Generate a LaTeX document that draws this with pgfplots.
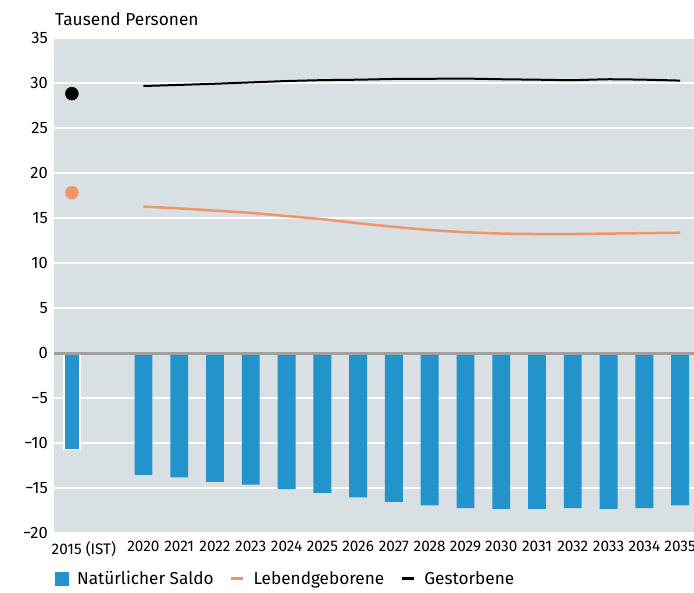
\documentclass[border=0pt]{standalone}
\usepackage{fontspec}
\setmainfont{Fira Sans}
\usepackage{pgfplots}
\usepackage{pgfplotstable}
\pgfplotsset{compat=1.18}

\definecolor{bg}{HTML}{D9E0E3}
\definecolor{barblue}{HTML}{2394CB}
\definecolor{orng}{HTML}{F0956A}
\definecolor{zeroline}{HTML}{A0A0A0}

% 2015 (IST) at x=0, projection years 2020..2035 at x=2..17
\pgfplotstableread{
x saldo geb gest
0 -10.7 17.85 28.85
}\tIst

\pgfplotstableread{
x  saldo  geb    gest
2  -13.5  16.30  29.70
3  -13.8  16.10  29.82
4  -14.3  15.85  29.95
5  -14.6  15.60  30.10
6  -15.1  15.25  30.25
7  -15.5  14.90  30.35
8  -16.0  14.45  30.40
9  -16.5  14.05  30.48
10 -16.9  13.70  30.50
11 -17.2  13.45  30.52
12 -17.3  13.30  30.45
13 -17.3  13.25  30.40
14 -17.2  13.25  30.35
15 -17.3  13.30  30.45
16 -17.2  13.35  30.40
17 -16.9  13.40  30.30
}\tProg

\begin{document}
\begin{tikzpicture}
\begin{axis}[
    at={(0pt,0pt)}, anchor=south west,
    scale only axis,
    width=644pt, height=495pt,
    xmin=-0.5, xmax=17.5,
    ymin=-20, ymax=35,
    axis line style={draw=none},
    axis background/.style={fill=bg},
    ymajorgrids,
    grid style={white, line width=2pt},
    tick style={draw=none},
    ytick={-20,-15,...,35},
    yticklabels={−20,−15,−10,−5,0,5,10,15,20,25,30,35},
    yticklabel style={font=\fontsize{16.5}{18}\selectfont, anchor=east, inner sep=0pt, xshift=-6pt},
    xtick={0,2,3,...,17},
    xticklabels={\hspace*{24pt}2015 (IST),2020,2021,2022,2023,2024,2025,2026,2027,2028,2029,2030,2031,2032,2033,2034,2035},
    xticklabel style={font=\fontsize{15.3}{17}\selectfont, anchor=north, inner sep=0pt, yshift=-8pt},
    legend columns=3,
    legend style={
        at={(rel axis cs:-0.004,-0.091)}, anchor=west,
        draw=none, fill=none,
        font=\fontsize{17.2}{19}\selectfont,
        nodes={inner sep=0pt},
        /tikz/every odd column/.append style={column sep=9pt},
        /tikz/every even column/.append style={column sep=16pt},
    },
]
% bars
\addplot[ybar, bar width=0.44, fill=barblue, draw=white, line width=1.5pt, forget plot]
    table[x=x, y=saldo] {\tIst};
\addplot[ybar, bar width=0.5, fill=barblue, draw=none, forget plot]
    table[x=x, y=saldo] {\tProg};
% zero line
\draw[zeroline, line width=2.5pt] (axis cs:-0.5,0) -- (axis cs:17.5,0);
% lines
\addplot[orng, line width=2.5pt, smooth, tension=0.3, forget plot]
    table[x=x, y=geb] {\tProg};
\addplot[black, line width=2pt, smooth, tension=0.3, forget plot]
    table[x=x, y=gest] {\tProg};
% 2015 dots
\addplot[only marks, mark=*, mark size=6.5pt, orng, forget plot]
    table[x=x, y=geb] {\tIst};
\addplot[only marks, mark=*, mark size=6.5pt, black, forget plot]
    table[x=x, y=gest] {\tIst};
% legend
\addlegendimage{legend image code/.code={\fill[barblue] (0pt,-6.5pt) rectangle (13pt,6.5pt);}}
\addlegendentry{Natürlicher Saldo}
\addlegendimage{legend image code/.code={\draw[orng, line width=3pt] (0pt,0pt) -- (12pt,0pt);}}
\addlegendentry{Lebendgeborene}
\addlegendimage{legend image code/.code={\draw[black, line width=3pt] (0pt,0pt) -- (12pt,0pt);}}
\addlegendentry{Gestorbene}
\end{axis}
\node[anchor=base west, inner sep=0pt, font=\fontsize{17.3}{19}\selectfont] at (1pt,508pt) {Tausend Personen};
\pgfresetboundingbox
\path[use as bounding box] (-54pt,-59.7pt) rectangle (640pt,533.3pt);
\end{tikzpicture}
\end{document}
